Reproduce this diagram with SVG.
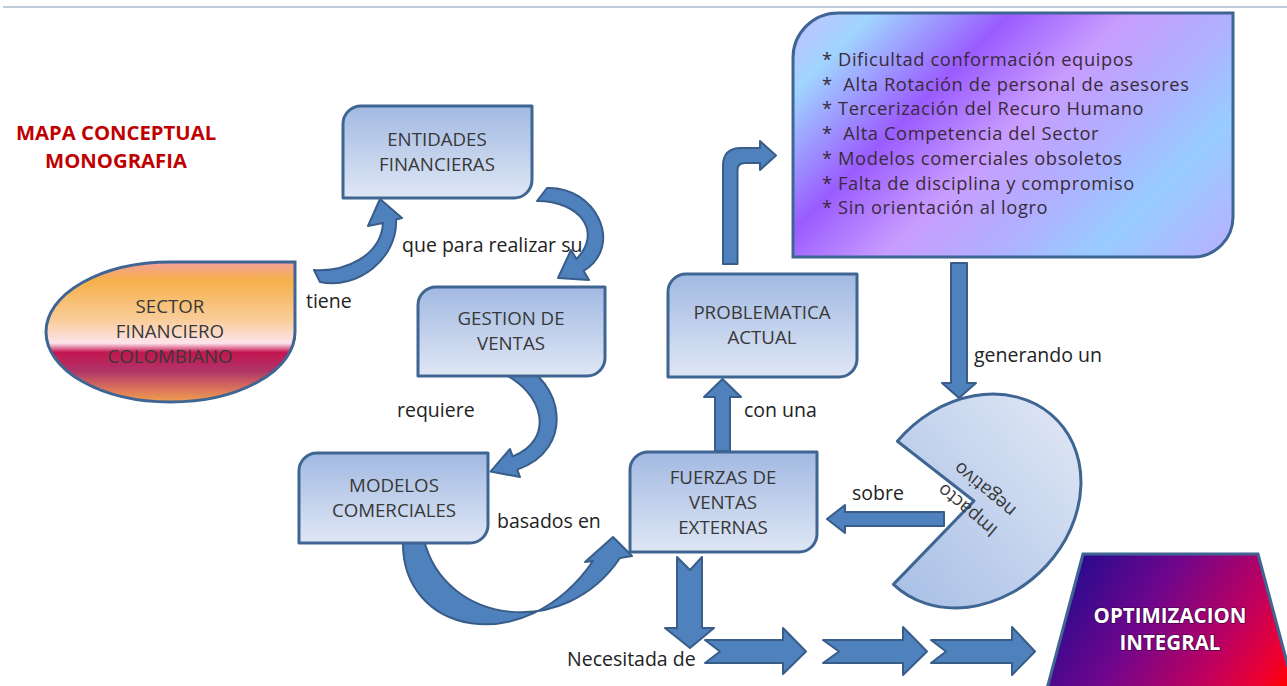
<svg xmlns="http://www.w3.org/2000/svg" width="1287" height="686" viewBox="0 0 1287 686">
<defs>
<style>
.box{fill:url(#gBox);stroke:#3f6593;stroke-width:3;stroke-linejoin:round}
.arrow{fill:#4f81bd;stroke:#385d8a;stroke-width:2;stroke-linejoin:round}
.bt{font-family:'Open Sans','Liberation Sans',sans-serif;font-size:18.7px;fill:#383838;text-anchor:middle}
.lbl{font-family:'Open Sans','Liberation Sans',sans-serif;font-size:19.5px;fill:#222}
.lst{font-family:'Open Sans','Liberation Sans',sans-serif;font-size:18.3px;letter-spacing:0.6px;fill:#3a2a3a;white-space:pre}
.ttl{font-family:'Open Sans','Liberation Sans',sans-serif;font-size:20.3px;font-weight:bold;fill:#c00000;text-anchor:middle}
.opt{font-family:'Open Sans','Liberation Sans',sans-serif;font-size:20.5px;font-weight:bold;fill:#ffffff;text-anchor:middle;stroke:#3a0040;stroke-width:1.2;paint-order:stroke}
</style>
<linearGradient id="gBox" x1="0" y1="0" x2="0" y2="1">
<stop offset="0" stop-color="#a2b9e2"/><stop offset="1" stop-color="#dfe7f5"/>
</linearGradient>
<linearGradient id="gPie" x1="1" y1="0" x2="0" y2="1">
<stop offset="0" stop-color="#e2e9f5"/><stop offset="1" stop-color="#a7bee6"/>
</linearGradient>
<linearGradient id="gSector" x1="0" y1="0" x2="0" y2="1">
<stop offset="0" stop-color="#f4a09c"/>
<stop offset="0.13" stop-color="#f5b04a"/>
<stop offset="0.41" stop-color="#f9cc98"/>
<stop offset="0.58" stop-color="#fde4ec"/>
<stop offset="0.645" stop-color="#c41550"/>
<stop offset="0.78" stop-color="#b03568"/>
<stop offset="0.9" stop-color="#d8705c"/>
<stop offset="1" stop-color="#f0a050"/>
</linearGradient>
<linearGradient id="gList" gradientUnits="userSpaceOnUse" x1="793" y1="13" x2="1133" y2="353">
<stop offset="0" stop-color="#c4c0ff"/>
<stop offset="0.12" stop-color="#a0d4ff"/>
<stop offset="0.32" stop-color="#9a5cff"/>
<stop offset="0.49" stop-color="#c89cff"/>
<stop offset="0.65" stop-color="#b0b0ff"/>
<stop offset="0.8" stop-color="#98ccff"/>
<stop offset="1" stop-color="#b8b0ff"/>
</linearGradient>
<linearGradient id="gOpt" gradientUnits="userSpaceOnUse" x1="1083" y1="554" x2="1287" y2="686">
<stop offset="0" stop-color="#2a0a8e"/>
<stop offset="0.35" stop-color="#70068c"/>
<stop offset="0.7" stop-color="#c0005e"/>
<stop offset="0.9" stop-color="#ee0030"/>
<stop offset="1" stop-color="#ff0000"/>
</linearGradient>
</defs>
<rect width="1287" height="686" fill="#ffffff"/>
<line x1="3" y1="7" x2="1287" y2="7" stroke="#a9bbd0" stroke-width="1.5"/>

<g id="title">
<text class="ttl" x="116" y="140">MAPA CONCEPTUAL</text>
<text class="ttl" x="116" y="168">MONOGRAFIA</text>
</g>

<g id="connectors">
<path class="arrow" d="M 314,270 C 345,272 381,256 383,223 L 368,226 L 380,199 L 402,218 L 396,219.5 C 398,258 358,290 320,282 Z"/>
<path class="arrow" d="M 547,188 C 595,186 625,245 583.6,271 L 589,280 L 558,278 L 571,250 L 576.4,259 C 603,232 580,201 537,201 Z"/>
<path class="arrow" d="M 515,362 C 565,380 575,450 517.3,469.6 L 520,477 L 490.5,471.6 L 510,449 L 512.7,456.4 C 555,440 545,392 500,372 Z"/>
<path class="arrow" d="M 403,540 C 400,635 525,660 593,561 L 585,562 L 613,537 L 632,556 L 620,558 C 565,640 445,625 424,540 Z"/>
<path class="arrow" d="M 715,451 L 715,397 L 704,397 L 722.5,379 L 741,397 L 730,397 L 730,451 Z"/>
<path class="arrow" d="M 723,264 L 723,166 Q 723,148 741,148 L 760,148 L 760,141 L 776,155.5 L 760,170 L 760,163 L 745,163 Q 737.5,163 737.5,170 L 737.5,264 Z"/>
<path class="arrow" d="M 951,263 L 951,383 L 942,383 L 959,398 L 976,383 L 967,383 L 967,263 Z"/>
<path class="arrow" d="M 944,512 L 845,512 L 845,505 L 827,519 L 845,533 L 845,526 L 944,526 Z"/>
<path class="arrow" d="M 677,557 L 690,570 L 702,557 L 702,628 L 714,628 L 690,648 L 665,628 L 677,628 Z"/>
<path class="arrow" d="M 705,640 L 783,640 L 783,628 L 806,651.5 L 783,674 L 783,663 L 705,663 L 720,651.5 Z"/>
<path class="arrow" d="M 823,640 L 903,640 L 903,627 L 927,651.5 L 903,675 L 903,663 L 823,663 L 839,651.5 Z"/>
<path class="arrow" d="M 931,640 L 1012,640 L 1012,627 L 1035,651.5 L 1012,675 L 1012,663 L 931,663 L 946,651.5 Z"/>
</g>

<g id="labels">
<text class="lbl" x="306" y="308">tiene</text>
<text class="lbl" x="402" y="252">que para realizar su</text>
<text class="lbl" x="397" y="417">requiere</text>
<text class="lbl" x="497" y="528">basados en</text>
<text class="lbl" x="744" y="417">con una</text>
<text class="lbl" x="974" y="362">generando un</text>
<text class="lbl" x="852" y="500">sobre</text>
<text class="lbl" x="567" y="666">Necesitada de</text>
</g>

<g id="sector">
<path d="M 295,262 L 295,332 A 124.5 70 0 0 1 170.5,402 A 124.5 70 0 0 1 46,332 A 124.5 70 0 0 1 170.5,262 Z" fill="url(#gSector)" stroke="#3f6593" stroke-width="3"/>
<text class="bt" x="170" y="313">SECTOR</text>
<text class="bt" x="170" y="338">FINANCIERO</text>
<text class="bt" x="170" y="363">COLOMBIANO</text>
</g>

<g id="entidades">
<path class="box" d="M 361,106 L 532,106 L 532,180 A 18 18 0 0 1 514,198 L 343,198 L 343,124 A 18 18 0 0 1 361,106 Z"/>
<text class="bt" x="437" y="146">ENTIDADES</text>
<text class="bt" x="437" y="171">FINANCIERAS</text>
</g>

<g id="gestion">
<path class="box" d="M 436,287 L 605,287 L 605,358 A 18 18 0 0 1 587,376 L 418,376 L 418,305 A 18 18 0 0 1 436,287 Z"/>
<text class="bt" x="511" y="325">GESTION DE</text>
<text class="bt" x="511" y="350">VENTAS</text>
</g>

<g id="modelos">
<path class="box" d="M 317,453 L 488,453 L 488,525 A 18 18 0 0 1 470,543 L 299,543 L 299,471 A 18 18 0 0 1 317,453 Z"/>
<text class="bt" x="394" y="492">MODELOS</text>
<text class="bt" x="394" y="517">COMERCIALES</text>
</g>

<g id="fuerzas">
<path class="box" d="M 648,452 L 817,452 L 817,534 A 18 18 0 0 1 799,552 L 630,552 L 630,470 A 18 18 0 0 1 648,452 Z"/>
<text class="bt" x="723" y="484">FUERZAS DE</text>
<text class="bt" x="723" y="509">VENTAS</text>
<text class="bt" x="723" y="534">EXTERNAS</text>
</g>

<g id="problematica">
<path class="box" d="M 686,274 L 857,274 L 857,359 A 18 18 0 0 1 839,377 L 668,377 L 668,292 A 18 18 0 0 1 686,274 Z"/>
<text class="bt" x="762" y="319">PROBLEMATICA</text>
<text class="bt" x="762" y="344">ACTUAL</text>
</g>

<g id="problemas">
<path d="M 838,13 L 1233,13 L 1233,217 A 40 40 0 0 1 1193,257 L 793,257 L 793,58 A 45 45 0 0 1 838,13 Z" fill="url(#gList)" stroke="#3f6593" stroke-width="3"/>
<text class="lst" x="822" y="66">* Dificultad conformación equipos</text>
<text class="lst" x="822" y="90.7">*  Alta Rotación de personal de asesores</text>
<text class="lst" x="822" y="115.4">* Tercerización del Recuro Humano</text>
<text class="lst" x="822" y="140.1">*  Alta Competencia del Sector</text>
<text class="lst" x="822" y="164.8">* Modelos comerciales obsoletos</text>
<text class="lst" x="822" y="189.5">* Falta de disciplina y compromiso</text>
<text class="lst" x="822" y="214.2">* Sin orientación al logro</text>
</g>

<g id="impacto">
<path d="M 974,501 L 897.4,441.2 A 116 97 -45 1 1 893.4,584.4 Z" fill="url(#gPie)" stroke="#3f6593" stroke-width="3" stroke-linejoin="round"/>
<g transform="translate(976,500) rotate(220)">
<text class="bt" x="0" y="-7" fill="#222">Impacto</text>
<text class="bt" x="0" y="20" fill="#222">negativo</text>
</g>
</g>

<g id="optimizacion">
<path d="M 1083,554 L 1258,554 L 1297,700 L 1044,700 Z" fill="url(#gOpt)" stroke="#3f6593" stroke-width="3"/>
<text class="opt" x="1170" y="623">OPTIMIZACION</text>
<text class="opt" x="1170" y="650">INTEGRAL</text>
</g>
</svg>
